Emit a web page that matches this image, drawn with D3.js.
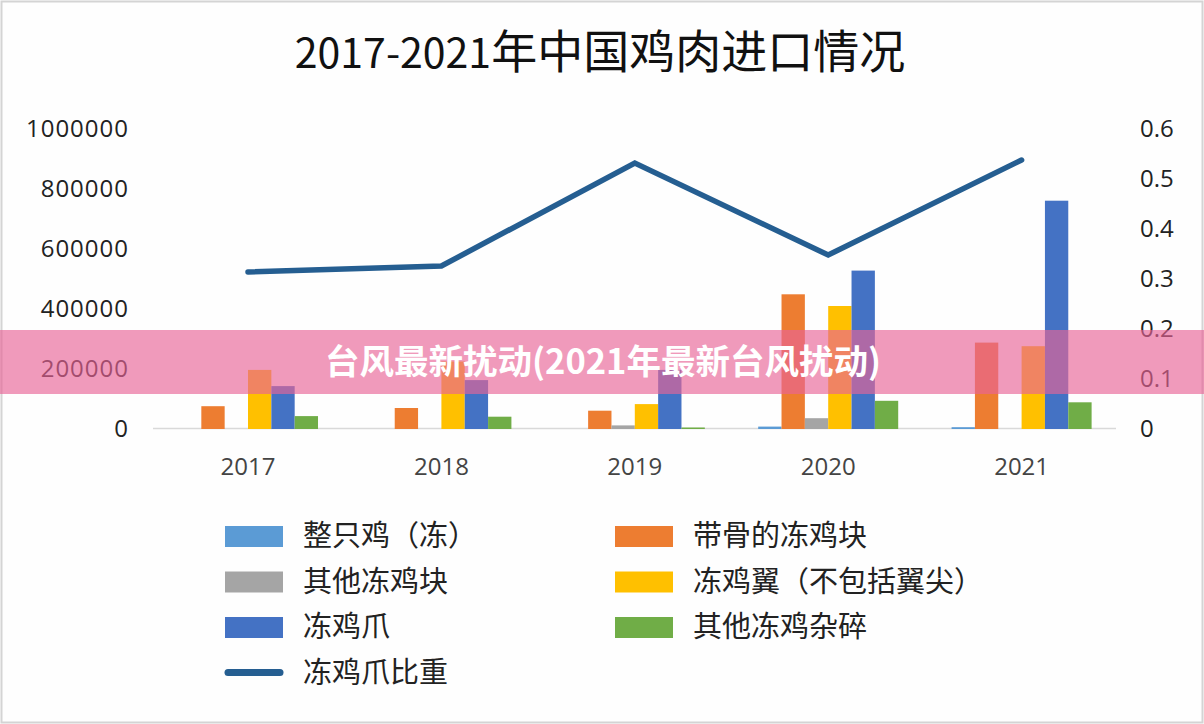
<!DOCTYPE html>
<html>
<head>
<meta charset="utf-8">
<script src="https://cdn.jsdelivr.net/npm/d3@7"></script>
<style>
  html, body { margin: 0; padding: 0; background: #fff; }
  svg { display: block; }
</style>
</head>
<body>
<div id="chart"></div>
<script>
// data
var years = ["2017", "2018", "2019", "2020", "2021"];
var seriesNames = ["整只鸡（冻）", "带骨的冻鸡块", "其他冻鸡块", "冻鸡翼（不包括翼尖）", "冻鸡爪", "其他冻鸡杂碎"];
var wholeChicken = [0, 0, 0, 8000, 6000];
var boneIn = [76000, 70000, 61000, 449000, 288000];
var otherCuts = [0, 0, 12000, 36000, 0];
var wings = [197000, 225000, 83000, 410000, 276000];
var feet = [143000, 163000, 197000, 528000, 761000];
var offal = [43000, 41000, 5000, 94000, 89000];
var lineName = "冻鸡爪比重";
var feetShare = [0.314, 0.326, 0.532, 0.348, 0.538];
var leftTicks = [0, 200000, 400000, 600000, 800000, 1000000];
var rightTicks = [0, 0.1, 0.2, 0.3, 0.4, 0.5, 0.6];
var titleYears = "2017-2021";
var titleText = "年中国鸡肉进口情况";
var bannerText = "台风最新扰动(2021年最新台风扰动)";

var seriesValues = [wholeChicken, boneIn, otherCuts, wings, feet, offal];
var colors = ["#5B9BD5", "#ED7D31", "#A5A5A5", "#FFC000", "#4472C4", "#70AD47"];
var lineColor = "#255E91";

var w = 1204, h = 724;
var cjk = "'Noto Sans CJK SC', 'Noto Sans', sans-serif";
var num = "'Open Sans', 'Noto Sans', sans-serif";

var svg = d3.select("#chart")
  .append("svg")
  .attr("width", w)
  .attr("height", h);

svg.append("rect")
  .attr("x", 1.5).attr("y", 1.5)
  .attr("width", w - 3).attr("height", h - 3)
  .attr("fill", "#fefefe")
  .attr("stroke", "#d4d4d4")
  .attr("stroke-width", 2);

// title: narrow digits, larger CJK
var title = svg.append("text")
  .attr("x", 600)
  .attr("y", 68)
  .attr("text-anchor", "middle")
  .style("font-family", cjk)
  .attr("fill", "#111");
title.append("tspan").style("font-size", "41px").text(titleYears);
title.append("tspan").style("font-size", "46px").text(titleText);

// scales
var x0 = d3.scaleBand()
  .domain(years)
  .range([151.3, 1118.3])
  .paddingInner(0.276)
  .paddingOuter(0.138);

var x1 = d3.scaleBand()
  .domain(d3.range(seriesNames.length))
  .range([0, x0.bandwidth()]);

var yLeft = d3.scaleLinear().domain([0, 1000000]).range([429, 129]);
var yRight = d3.scaleLinear().domain([0, 0.6]).range([429, 129]);

// axes
var leftAxis = svg.append("g")
  .attr("transform", "translate(141,0)")
  .call(d3.axisLeft(yLeft).tickValues(leftTicks).tickSize(0).tickPadding(12).tickFormat(d3.format("d")));

var rightAxis = svg.append("g")
  .attr("transform", "translate(1118,0)")
  .call(d3.axisRight(yRight).tickValues(rightTicks).tickSize(0).tickPadding(22)
    .tickFormat(d => d === 0 ? "0" : d3.format(".1f")(d)));

var bottomAxis = svg.append("g")
  .attr("transform", "translate(0,428)")
  .call(d3.axisBottom(x0).tickSize(0).tickPadding(30));

[leftAxis, rightAxis, bottomAxis].forEach(g => {
  g.select(".domain").remove();
  g.selectAll("text")
    .style("font-family", num)
    .style("font-size", "24px")
    .attr("fill", "#222");
});
leftAxis.selectAll("text").style("letter-spacing", "1px");
bottomAxis.selectAll("text").attr("fill", "#444");

svg.append("line")
  .attr("x1", 153).attr("x2", 1116)
  .attr("y1", 428.5).attr("y2", 428.5)
  .attr("stroke", "#d9d9d9")
  .attr("stroke-width", 1.5);

// bars
var groups = svg.append("g").selectAll("g")
  .data(years)
  .enter().append("g")
  .attr("transform", d => "translate(" + x0(d) + ",0)");

groups.selectAll("rect")
  .data((d, i) => seriesValues.map((vals, s) => ({ s: s, v: vals[i] })))
  .enter().append("rect")
  .attr("x", d => x1(d.s))
  .attr("width", x1.bandwidth())
  .attr("y", d => yLeft(d.v))
  .attr("height", d => yLeft(0) - yLeft(d.v))
  .attr("fill", d => colors[d.s]);

// share line
var line = d3.line()
  .x((d, i) => x0(years[i]) + x0.bandwidth() / 2)
  .y(d => yRight(d));

svg.append("path")
  .datum(feetShare)
  .attr("d", line)
  .attr("fill", "none")
  .attr("stroke", lineColor)
  .attr("stroke-width", 5.5)
  .attr("stroke-linecap", "round")
  .attr("stroke-linejoin", "miter");

// legend
var legendItems = seriesNames.map((n, i) => ({ name: n, color: colors[i], type: "bar" }));
legendItems.push({ name: lineName, color: lineColor, type: "line" });

var legend = svg.append("g").selectAll("g")
  .data(legendItems)
  .enter().append("g")
  .attr("transform", (d, i) => "translate(" + (i % 2 ? 615 : 225) + "," + (536 + Math.floor(i / 2) * 45.5) + ")");

legend.filter(d => d.type === "bar").append("rect")
  .attr("x", 0).attr("y", -10)
  .attr("width", 58).attr("height", 21)
  .attr("fill", d => d.color);

legend.filter(d => d.type === "line").append("line")
  .attr("x1", 3).attr("x2", 55)
  .attr("y1", 0).attr("y2", 0)
  .attr("stroke", d => d.color)
  .attr("stroke-width", 7)
  .attr("stroke-linecap", "round");

legend.append("text")
  .attr("x", 78)
  .attr("y", 0)
  .attr("dy", "0.36em")
  .style("font-family", cjk)
  .style("font-size", "29px")
  .attr("fill", "#222")
  .text(d => d.name);

// pink banner over the chart
svg.append("rect")
  .attr("x", 0).attr("y", 330)
  .attr("width", w).attr("height", 64)
  .attr("fill", "rgb(232,100,150)")
  .attr("fill-opacity", 0.65);

svg.append("text")
  .attr("x", 603)
  .attr("y", 362)
  .attr("dy", "0.36em")
  .attr("text-anchor", "middle")
  .style("font-family", cjk)
  .style("font-size", "34.5px")
  .style("font-weight", "700")
  .attr("fill", "#fff")
  .text(bannerText);
</script>
</body>
</html>
